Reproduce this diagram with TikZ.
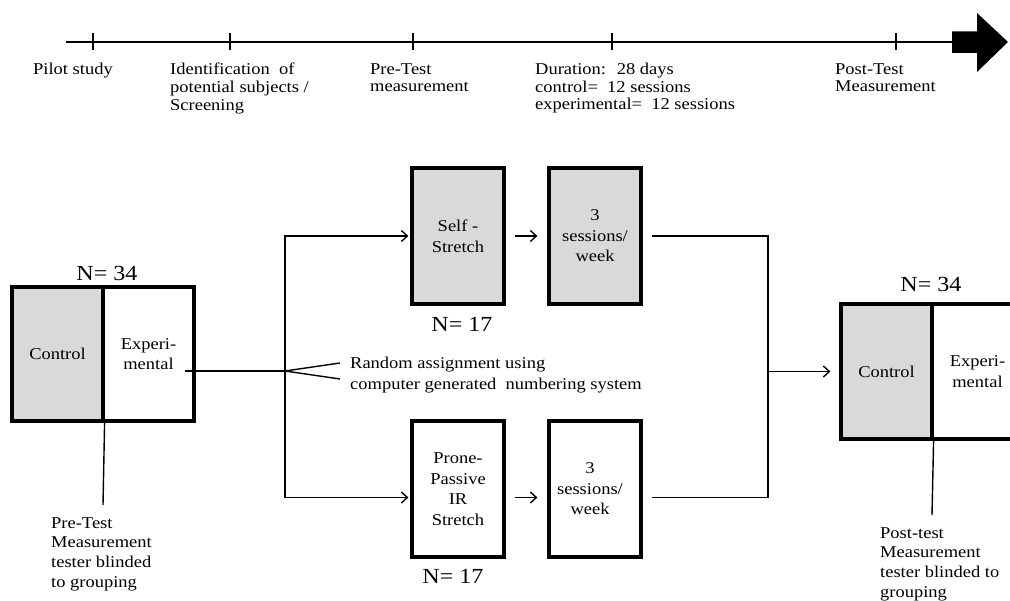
\documentclass[tikz,border=0pt]{standalone}
\usepackage{fontspec}
\setmainfont{Liberation Serif}[FakeStretch=1.12]
\usetikzlibrary{arrows.meta,calc}
\definecolor{boxgray}{HTML}{D9D9D9}
\newcommand{\tlfont}{\fontsize{16.5}{17.6}\selectfont}
\newcommand{\boxfont}{\fontsize{16.5}{20.6}\selectfont}
\newcommand{\notefont}{\fontsize{16.5}{19.8}\selectfont}
\newcommand{\bigNfont}{\fontsize{21.5}{22}\selectfont}
\tikzset{
  bx/.style={draw, line width=3.2pt, rectangle, inner sep=0pt, align=center, font=\boxfont},
  tall/.style={minimum width=92pt, minimum height=136pt},
  wide/.style={minimum width=91pt, minimum height=135pt},
  conn/.style={line width=1.4pt},
  arr/.style={conn, -{Straight Barb[length=6pt,width=11pt,line width=1.4pt]}},
  lbl/.style={anchor=north west, inner sep=0pt, align=left},
  nlab/.style={anchor=base, inner sep=0pt, font=\bigNfont},
}
\begin{document}
\begin{tikzpicture}[x=1pt,y=-1pt]
\useasboundingbox (0,0) rectangle (1010,601);
\clip (0,0) rectangle (1010,601);
% timeline
\coordinate (tl0) at (66,42);
\coordinate (tl1) at (955,42);
\draw[line width=2pt] (tl0) -- (tl1);
\foreach \x/\n in {93/t1,230/t2,413/t3,612/t4,896/t5}{
  \coordinate (\n) at (\x,42);
  \draw[line width=1.4pt] ([yshift=8.5pt]\n) -- ([yshift=-8.5pt]\n);
}
\fill (952,31.5) -- (977,31.5) -- (977,13) -- (1008,42) -- (977,72) -- (977,53) -- (952,53) -- cycle;
\node[lbl, font=\tlfont] (l1) at (33,63) {Pilot study};
\node[lbl, font=\tlfont] (l2) at (170,63) {Identification~ of\\potential subjects /\\Screening};
\node[lbl, font=\tlfont] (l3) at (370,63) {Pre-Test\\measurement};
\node[lbl, font=\tlfont] (l4) at (535,63) {Duration:~ 28 days\\control=~ 12 sessions\\experimental=~ 12 sessions};
\node[lbl, font=\tlfont] (l5) at (835,63) {Post-Test\\Measurement};
% left group box
\node[bx, wide, fill=boxgray, minimum height=134pt] (ctrlL) at (57.5,354) {Control};
\node[bx, wide, minimum height=134pt] (expL) at (148.5,354) {\raisebox{-3pt}{\parbox{80pt}{\centering Experi-\\mental}}};
\node[nlab] (nL) at (107,281) {N=~34};
% right group box
\node[bx, wide, fill=boxgray] (ctrlR) at (886.5,371.5) {Control};
\node[bx, wide] (expR) at (977.5,371.5) {\raisebox{-3pt}{\parbox{80pt}{\centering Experi-\\mental}}};
\node[nlab] (nR) at (931,292) {N=~34};
% treatment boxes
\node[bx, tall, fill=boxgray] (self) at (458,236) {\raisebox{-2pt}{\parbox{80pt}{\centering Self -\\Stretch}}};
\node[bx, tall, fill=boxgray] (sess1) at (595,236) {3\\sessions/\\week};
\node[bx, tall] (prone) at (458,489) {\raisebox{-2pt}{\parbox{80pt}{\centering Prone-\\Passive\\IR\\Stretch}}};
\node[bx, tall] (sess2) at (595,489) {\raisebox{-4pt}{\parbox{80pt}{\centering\hspace*{-10pt}3\\\hspace*{-10pt}sessions/\\\hspace*{-10pt}week}}};
\node[nlab] (n17a) at (462,332) {N=\ 17};
\node[nlab] (n17b) at (453,583) {N=\ 17};
% random assignment
\coordinate (start) at (185,371);
\coordinate (split) at (285,371);
\draw[conn] (start) -- (split);
\draw[arr, shorten >=2pt] (split) |- (self.west);
\draw[arr, shorten >=2pt] (split) |- ([yshift=-8.5pt]prone.west);
\coordinate (va) at (340,363);
\coordinate (vb) at (340,379);
\draw[conn] (va) -- (split) -- (vb);
\node[lbl, font=\boxfont] (rand) at (350,357) {Random assignment using\\computer generated~ numbering system};
% box to box
\draw[arr, shorten <=9pt, shorten >=10pt] (self) -- (sess1);
\draw[arr, shorten <=9pt, shorten >=10pt] ([yshift=-8.5pt]prone.east) -- ([yshift=-8.5pt]sess2.west);
% join
\coordinate (join) at (768,371.5);
\draw[conn] ([xshift=9pt]sess1.east) -| (join);
\draw[conn] ([xshift=9pt,yshift=-8.5pt]sess2.east) -| (join);
\draw[arr, shorten >=9pt] (join) -- (ctrlR.west);
% notes
\coordinate (preEnd) at (103,505);
\draw[conn] (ctrlL.south east) -- (preEnd);
\node[lbl, font=\notefont] (preNote) at (51,517) {Pre-Test\\Measurement\\tester blinded\\to grouping};
\coordinate (postEnd) at (932,515);
\draw[conn] (ctrlR.south east) -- (postEnd);
\node[lbl, font=\notefont] (postNote) at (880,527) {Post-test\\Measurement\\tester blinded to\\grouping};
\end{tikzpicture}
\end{document}
